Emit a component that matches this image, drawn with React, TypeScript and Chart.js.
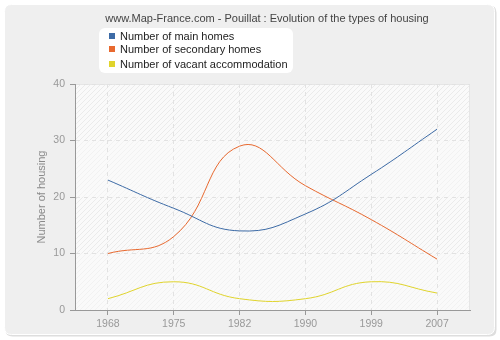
import React, { useEffect, useRef } from "react";
import { Chart, registerables } from "chart.js";

Chart.register(...registerables);

const years = ["1968", "1975", "1982", "1990", "1999", "2007"];
const mainHomes = [23, 18, 14, 17, 24, 32];
const secondaryHomes = [10, 13, 29, 22, 16, 9];
const vacantHomes = [2, 5, 2, 2, 5, 3];
const seriesNames = [
  "Number of main homes",
  "Number of secondary homes",
  "Number of vacant accommodation",
];
const seriesColors = ["#3d6ba6", "#e8692f", "#e0d42c"];
const titleText = "www.Map-France.com - Pouillat : Evolution of the types of housing";
const yAxisTitle = "Number of housing";
const yMin = 0;
const yMax = 40;
const yStep = 10;

const FONT = "'Liberation Sans', Arial, sans-serif";

function roundRect(ctx: CanvasRenderingContext2D, x: number, y: number, w: number, h: number, r: number) {
  ctx.beginPath();
  ctx.moveTo(x + r, y);
  ctx.lineTo(x + w - r, y);
  ctx.quadraticCurveTo(x + w, y, x + w, y + r);
  ctx.lineTo(x + w, y + h - r);
  ctx.quadraticCurveTo(x + w, y + h, x + w - r, y + h);
  ctx.lineTo(x + r, y + h);
  ctx.quadraticCurveTo(x, y + h, x, y + h - r);
  ctx.lineTo(x, y + r);
  ctx.quadraticCurveTo(x, y, x + r, y);
  ctx.closePath();
}

function makeHatch(alpha: number): HTMLCanvasElement {
  const c = document.createElement("canvas");
  c.width = 5;
  c.height = 5;
  const g = c.getContext("2d")!;
  g.strokeStyle = `rgba(0,0,0,${alpha})`;
  g.lineWidth = 1;
  g.beginPath();
  g.moveTo(0, 5);
  g.lineTo(5, 0);
  g.moveTo(-1, 1);
  g.lineTo(1, -1);
  g.moveTo(4, 6);
  g.lineTo(6, 4);
  g.stroke();
  return c;
}

const backgroundPlugin = {
  id: "bgPanel",
  beforeDraw(chart: any) {
    const ctx: CanvasRenderingContext2D = chart.ctx;
    const { left, right, top, bottom } = chart.chartArea;
    ctx.save();
    ctx.fillStyle = "#ffffff";
    ctx.fillRect(0, 0, chart.width, chart.height);
    // shadow
    roundRect(ctx, 5.5, 5.5, 491, 331, 7);
    ctx.fillStyle = "#dedede";
    ctx.fill();
    roundRect(ctx, 4.5, 4.5, 490, 330, 7);
    ctx.fillStyle = "#efefef";
    ctx.fill();
    ctx.strokeStyle = "#ffffff";
    ctx.lineWidth = 1;
    ctx.stroke();
    // plot area
    ctx.fillStyle = "#fafafa";
    ctx.fillRect(left, top, right - left, bottom - top);
    const y = chart.scales.y;
    const strong = ctx.createPattern(makeHatch(0.06), "repeat")!;
    const weak = ctx.createPattern(makeHatch(0.03), "repeat")!;
    let band = 0;
    for (let v = yMax; v > yMin; v -= yStep) {
      const y1 = y.getPixelForValue(v);
      const y2 = y.getPixelForValue(v - yStep);
      ctx.fillStyle = band % 2 === 0 ? strong : weak;
      ctx.fillRect(left, y1, right - left, y2 - y1);
      band++;
    }
    ctx.strokeStyle = "#e6e6e6";
    ctx.strokeRect(left + 0.5, top + 0.5, right - left - 1, bottom - top);
    ctx.restore();
  },
};

export default function App() {
  const canvasRef = useRef<HTMLCanvasElement | null>(null);

  useEffect(() => {
    const canvas = canvasRef.current;
    if (!canvas) return;
    const seriesData = [mainHomes, secondaryHomes, vacantHomes];
    const chart = new Chart(canvas, {
      type: "line",
      data: {
        labels: years,
        datasets: seriesData.map((d, i) => ({
          label: seriesNames[i],
          data: d,
          borderColor: seriesColors[i],
          backgroundColor: seriesColors[i],
          borderWidth: 1,
          pointRadius: 0,
          fill: false,
          tension: 0.45,
        })),
      },
      options: {
        responsive: false,
        animation: false,
        events: [],
        layout: { padding: { left: 0, right: 30, top: 84, bottom: 0 } },
        plugins: {
          legend: { display: false },
          title: { display: false },
          tooltip: { enabled: false },
        },
        scales: {
          x: {
            type: "category",
            offset: true,
            grid: {
              offset: false,
              color: "#e2e2e2",
              lineWidth: 1,
              drawTicks: true,
              tickLength: 5,
              tickColor: "#999999",
            },
            border: { display: true, color: "#999999", width: 1, dash: [4, 4] },
            ticks: {
              color: "#999999",
              font: { family: FONT, size: 10.5 },
              padding: 3,
              maxRotation: 0,
              autoSkip: false,
            },
            afterFit: (s: any) => {
              s.height = 30;
            },
          },
          y: {
            min: yMin,
            max: yMax,
            grid: {
              color: "#e2e2e2",
              lineWidth: 1,
              drawTicks: true,
              tickLength: 5,
              tickColor: "#999999",
            },
            border: { display: true, color: "#999999", width: 1, dash: [4, 4] },
            ticks: {
              stepSize: yStep,
              color: "#999999",
              font: { family: FONT, size: 10.5 },
              padding: 5,
            },
            title: {
              display: true,
              text: yAxisTitle,
              color: "#8a8a8a",
              font: { family: FONT, size: 11 },
              padding: { top: 35, bottom: 0 },
            },
            afterFit: (s: any) => {
              s.width = 75;
            },
          },
        },
      },
      plugins: [backgroundPlugin],
    } as any);
    return () => chart.destroy();
  }, []);

  const legendTops = [36, 49, 64];

  return (
    <div style={{ position: "absolute", left: 0, top: 0, width: 500, height: 340 }}>
      <canvas ref={canvasRef} width={500} height={340} style={{ display: "block" }} />
      <div
        style={{
          position: "absolute",
          left: 17,
          top: 11,
          width: 500,
          textAlign: "center",
          font: `11px ${FONT}`,
          color: "#444444",
          lineHeight: "14px",
          whiteSpace: "nowrap",
        }}
      >
        {titleText}
      </div>
      <div
        style={{
          position: "absolute",
          left: 99,
          top: 28,
          width: 194,
          height: 45,
          background: "#ffffff",
          borderRadius: 6,
        }}
      />
      {seriesNames.map((n, i) => (
        <React.Fragment key={n}>
          <div
            style={{
              position: "absolute",
              left: 109,
              top: legendTops[i] - 3,
              width: 6,
              height: 6,
              background: seriesColors[i],
            }}
          />
          <div
            style={{
              position: "absolute",
              left: 120,
              top: legendTops[i] - 7,
              font: `11px ${FONT}`,
              lineHeight: "14px",
              color: "#222222",
              whiteSpace: "nowrap",
            }}
          >
            {n}
          </div>
        </React.Fragment>
      ))}
    </div>
  );
}
